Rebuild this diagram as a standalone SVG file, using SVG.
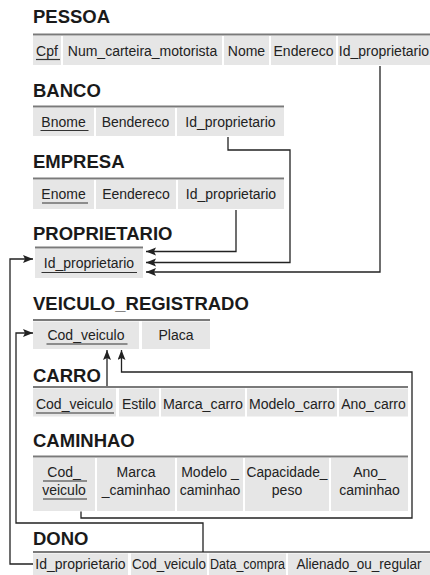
<svg xmlns="http://www.w3.org/2000/svg" width="430" height="575" viewBox="0 0 430 575">
<style>
.t{font-family:"Liberation Sans",Arial,sans-serif;font-weight:bold;font-size:18.5px;fill:#1a1a1a}
.c{fill:#e6e6e6}
.l{stroke:#7a7a7a;stroke-width:2}
.x{font-family:"Liberation Sans",Arial,sans-serif;font-size:14px;fill:#222;text-anchor:middle}
.u{stroke:#333;stroke-width:1.2}
.k{fill:none;stroke:#222;stroke-width:1.3;marker-end:url(#ah)}
</style>
<defs>
<marker id="ah" markerUnits="userSpaceOnUse" markerWidth="11" markerHeight="9" refX="10" refY="4" orient="auto">
<path d="M0,0 L10,4 L0,8 L2,4 Z" fill="#222"/>
</marker>
</defs>
<rect width="430" height="575" fill="#fff"/>

<g id="pessoa">
<text class="t" x="33" y="22.5">PESSOA</text>
<line class="l" x1="33" y1="34.5" x2="430" y2="34.5"/>
<rect class="c" x="33" y="36" width="28" height="29"/>
<rect class="c" x="63" y="36" width="159" height="29"/>
<rect class="c" x="224" y="36" width="45" height="29"/>
<rect class="c" x="271" y="36" width="65" height="29"/>
<rect class="c" x="338" y="36" width="92" height="29"/>
<text class="x" x="47" y="55.5">Cpf</text>
<text class="x" x="142.5" y="55.5">Num_carteira_motorista</text>
<text class="x" x="246.5" y="55.5">Nome</text>
<text class="x" x="303.5" y="55.5">Endereco</text>
<text class="x" x="384" y="55.5">Id_proprietario</text>
<line class="u" x1="36" y1="59.5" x2="60" y2="59.5"/>
</g>

<g id="banco">
<text class="t" x="33" y="96.5">BANCO</text>
<line class="l" x1="33" y1="106.5" x2="284" y2="106.5"/>
<rect class="c" x="33" y="108" width="61" height="28"/>
<rect class="c" x="96" y="108" width="79" height="28"/>
<rect class="c" x="177" y="108" width="107" height="28"/>
<text class="x" x="63.5" y="126.5">Bnome</text>
<text class="x" x="135.5" y="126.5">Bendereco</text>
<text class="x" x="230.5" y="126.5">Id_proprietario</text>
<line class="u" x1="40.5" y1="130.5" x2="88.5" y2="130.5"/>
</g>

<g id="empresa">
<text class="t" x="33" y="168">EMPRESA</text>
<line class="l" x1="33" y1="178.5" x2="284" y2="178.5"/>
<rect class="c" x="33" y="180" width="61" height="29"/>
<rect class="c" x="96" y="180" width="80" height="29"/>
<rect class="c" x="178" y="180" width="106" height="29"/>
<text class="x" x="63.5" y="198.5">Enome</text>
<text class="x" x="136" y="198.5">Eendereco</text>
<text class="x" x="231" y="198.5">Id_proprietario</text>
<line class="u" x1="42" y1="203" x2="88" y2="203"/>
</g>

<g id="proprietario">
<text class="t" x="33" y="240">PROPRIETARIO</text>
<line class="l" x1="35" y1="247.5" x2="143" y2="247.5"/>
<rect class="c" x="35" y="249" width="108" height="29"/>
<text class="x" x="89" y="267.5">Id_proprietario</text>
<line class="u" x1="41.5" y1="272.5" x2="137" y2="272.5"/>
</g>

<g id="veiculo_registrado">
<text class="t" x="33" y="310">VEICULO_REGISTRADO</text>
<line class="l" x1="33" y1="320" x2="210" y2="320"/>
<rect class="c" x="33" y="321.5" width="106" height="27.5"/>
<rect class="c" x="142" y="321.5" width="68" height="27.5"/>
<text class="x" x="86" y="339.5">Cod_veiculo</text>
<text class="x" x="176" y="339.5">Placa</text>
<line class="u" x1="46.5" y1="344" x2="127.5" y2="344"/>
</g>

<g id="carro">
<text class="t" x="33" y="381.5">CARRO</text>
<line class="l" x1="33" y1="387" x2="408" y2="387"/>
<rect class="c" x="33" y="388.5" width="83" height="28"/>
<rect class="c" x="119" y="388.5" width="40" height="28"/>
<rect class="c" x="161" y="388.5" width="84" height="28"/>
<rect class="c" x="247" y="388.5" width="90" height="28"/>
<rect class="c" x="339" y="388.5" width="69" height="28"/>
<text class="x" x="74.5" y="408.5">Cod_veiculo</text>
<text class="x" x="139" y="408.5">Estilo</text>
<text class="x" x="203" y="408.5" textLength="80" lengthAdjust="spacingAndGlyphs">Marca_carro</text>
<text class="x" x="292" y="408.5" textLength="86" lengthAdjust="spacingAndGlyphs">Modelo_carro</text>
<text class="x" x="373.5" y="408.5">Ano_carro</text>
<line class="u" x1="36" y1="413" x2="114" y2="413"/>
</g>

<g id="caminhao">
<text class="t" x="33" y="446.5">CAMINHAO</text>
<line class="l" x1="33" y1="456.5" x2="408" y2="456.5"/>
<rect class="c" x="33" y="458" width="62" height="53"/>
<rect class="c" x="97" y="458" width="78" height="53"/>
<rect class="c" x="177" y="458" width="66" height="53"/>
<rect class="c" x="245" y="458" width="84" height="53"/>
<rect class="c" x="331" y="458" width="77" height="53"/>
<text class="x" x="64" y="476.5">Cod_</text>
<text class="x" x="64" y="494.5">veiculo</text>
<text class="x" x="136" y="476.5">Marca</text>
<text class="x" x="136" y="494.5">_caminhao</text>
<text class="x" x="210" y="476.5">Modelo _</text>
<text class="x" x="210" y="494.5">caminhao</text>
<text class="x" x="287" y="476.5" textLength="81" lengthAdjust="spacingAndGlyphs">Capacidade_</text>
<text class="x" x="287" y="494.5">peso</text>
<text class="x" x="369.5" y="476.5">Ano_</text>
<text class="x" x="369.5" y="494.5">caminhao</text>
<line class="u" x1="43" y1="481" x2="87" y2="481"/>
<line class="u" x1="43" y1="499" x2="87" y2="499"/>
</g>

<g id="dono">
<text class="t" x="33" y="544.5">DONO</text>
<line class="l" x1="33" y1="552" x2="430" y2="552"/>
<rect class="c" x="33" y="553.5" width="95" height="22"/>
<rect class="c" x="131" y="553.5" width="76" height="22"/>
<rect class="c" x="209" y="553.5" width="77" height="22"/>
<rect class="c" x="288" y="553.5" width="142" height="22"/>
<text class="x" x="80.5" y="568.5">Id_proprietario</text>
<text class="x" x="169" y="568.5" textLength="74" lengthAdjust="spacingAndGlyphs">Cod_veiculo</text>
<text class="x" x="247.5" y="568.5" textLength="75" lengthAdjust="spacingAndGlyphs">Data_compra</text>
<text class="x" x="359" y="568.5" textLength="125" lengthAdjust="spacingAndGlyphs">Alienado_ou_regular</text>
</g>

<g id="connectors">
<path class="k" d="M380,66 V272 H146"/>
<path class="k" d="M228,137 V150 H290 V262.5 H146"/>
<path class="k" d="M236,210 V251.5 H146"/>
<path class="k" d="M33,564 H10 V259 H33"/>
<path class="k" d="M203,552 V523 H16 V333 H33"/>
<path class="k" d="M107,386 V350"/>
<path class="k" d="M81,511.5 V518 H412 V372 H121.5 V350"/>
</g>
</svg>
